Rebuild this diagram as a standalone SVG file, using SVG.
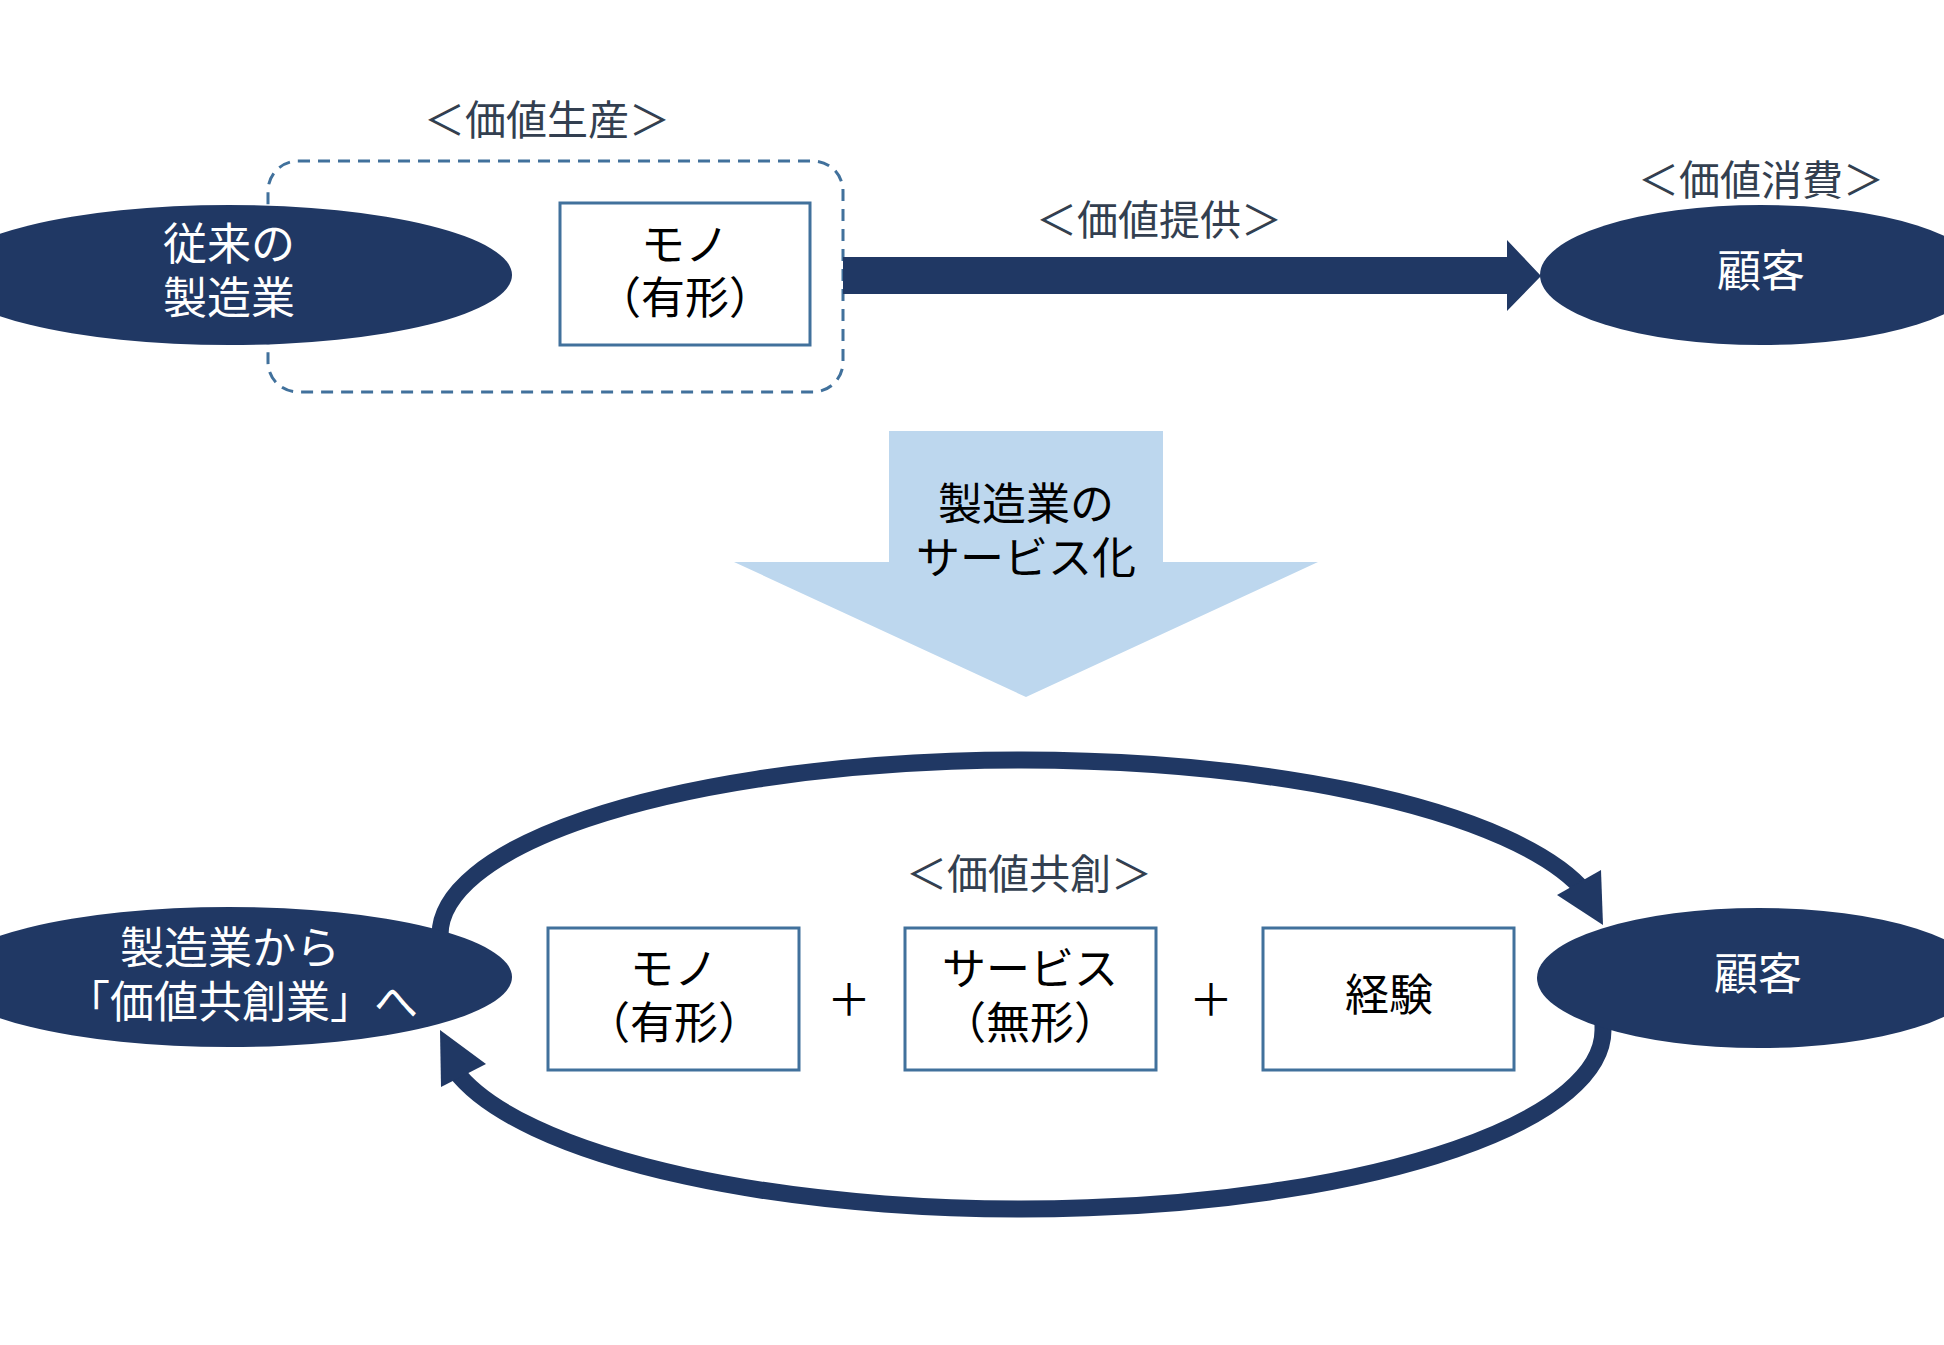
<svg xmlns="http://www.w3.org/2000/svg" width="1944" height="1345" viewBox="0 0 1944 1345">
  <style>
    text { font-family: "Noto Sans CJK JP", "Noto Sans", sans-serif; text-anchor: middle; }
    .nodeTxt { font-size: 44px; fill: #ffffff; }
    .boxTxt { font-size: 44px; fill: #000000; }
    .lbl { font-size: 41px; fill: #333F50; }
    .navy { fill: #203864; }
    .box { fill: #ffffff; stroke: #41719C; stroke-width: 3; }
    .loop { fill: none; stroke: #203864; stroke-width: 17; }
  </style>
  <rect width="1944" height="1345" fill="#ffffff"/>

  <g id="production-frame">
    <rect x="268" y="161" width="575" height="231" rx="30" ry="30" fill="none" stroke="#41719C" stroke-width="3" stroke-dasharray="12 8"/>
    <text class="lbl" x="547" y="135">＜価値生産＞</text>
  </g>

  <g id="connectors">
    <polygon class="navy" points="843,257 1507,257 1507,240 1541,276 1507,311 1507,294 843,294"/>
    <text class="lbl" x="1159" y="235">＜価値提供＞</text>
    <path class="loop" d="M 440 952 L 440 935 A 581.5 175 0 0 1 1586 893"/>
    <polygon class="navy" points="1557,895 1601,870 1603,925"/>
    <path class="loop" d="M 1603 1010 L 1603 1030 A 581.5 179 0 0 1 455 1070.4"/>
    <polygon class="navy" points="486,1064 441,1087 440,1030"/>
  </g>

  <g id="servitization-arrow">
    <polygon fill="#BDD7EE" points="889,431 1163,431 1163,562 1318,562 1026,697 734,562 889,562"/>
    <text class="boxTxt"><tspan x="1026" y="520">製造業の</tspan><tspan x="1026" y="574">サービス化</tspan></text>
  </g>

  <g id="traditional-manufacturer">
    <ellipse class="navy" cx="229" cy="275" rx="283" ry="70"/>
    <text class="nodeTxt"><tspan x="229" y="260">従来の</tspan><tspan x="229" y="314">製造業</tspan></text>
  </g>

  <g id="mono-top">
    <rect class="box" x="560" y="203" width="250" height="142"/>
    <text class="boxTxt"><tspan x="685" y="261">モノ</tspan><tspan x="685" y="314">（有形）</tspan></text>
  </g>

  <g id="customer-top">
    <ellipse class="navy" cx="1761" cy="275" rx="221" ry="70"/>
    <text class="nodeTxt" x="1761" y="287">顧客</text>
    <text class="lbl" x="1761" y="195">＜価値消費＞</text>
  </g>

  <g id="cocreation-label">
    <text class="lbl" x="1029" y="889">＜価値共創＞</text>
  </g>

  <g id="cocreation-manufacturer">
    <ellipse class="navy" cx="229" cy="977" rx="283" ry="70"/>
    <text class="nodeTxt"><tspan x="230" y="964">製造業から</tspan><tspan x="242" y="1018">「価値共創業」へ</tspan></text>
  </g>

  <g id="mono-bottom">
    <rect class="box" x="548" y="928" width="251" height="142"/>
    <text class="boxTxt"><tspan x="674" y="985">モノ</tspan><tspan x="674" y="1039">（有形）</tspan></text>
  </g>

  <g id="plus-1">
    <text class="boxTxt" x="849" y="1016">＋</text>
  </g>

  <g id="service-bottom">
    <rect class="box" x="905" y="928" width="251" height="142"/>
    <text class="boxTxt"><tspan x="1030" y="985">サービス</tspan><tspan x="1030" y="1039">（無形）</tspan></text>
  </g>

  <g id="plus-2">
    <text class="boxTxt" x="1211" y="1016">＋</text>
  </g>

  <g id="experience-bottom">
    <rect class="box" x="1263" y="928" width="251" height="142"/>
    <text class="boxTxt" x="1389" y="1011">経験</text>
  </g>

  <g id="customer-bottom">
    <ellipse class="navy" cx="1759" cy="978" rx="222" ry="70"/>
    <text class="nodeTxt" x="1758" y="990">顧客</text>
  </g>
</svg>
